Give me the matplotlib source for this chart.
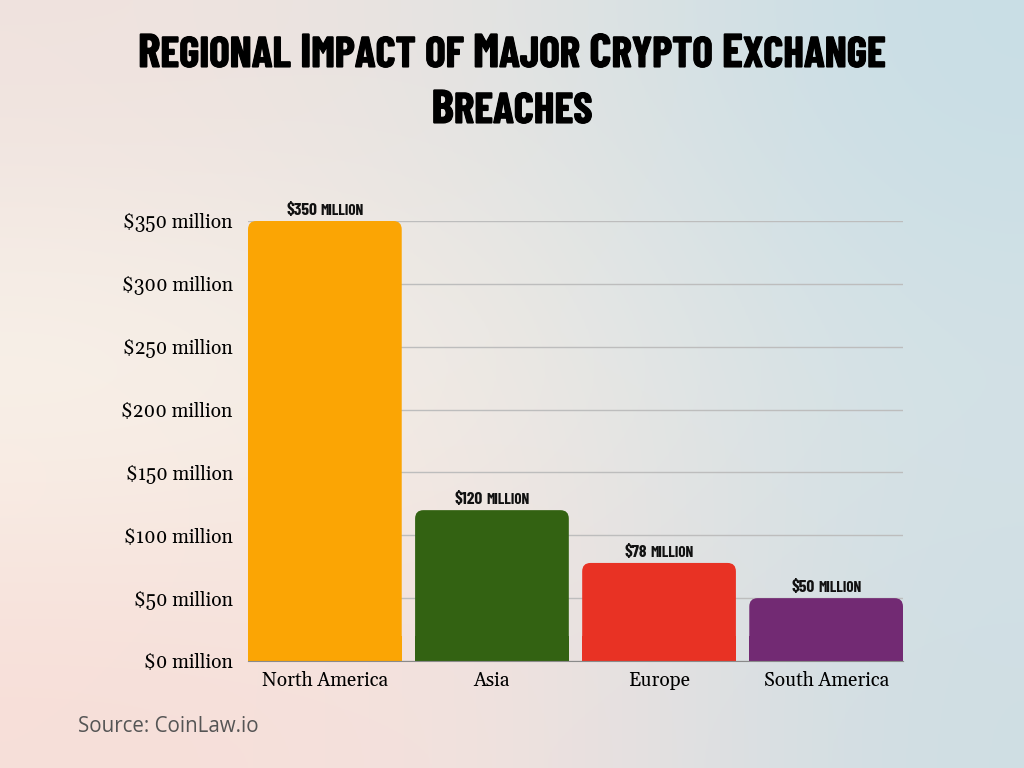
import numpy as np
import matplotlib.pyplot as plt
import matplotlib.patheffects as pe
from matplotlib.patches import FancyBboxPatch, Rectangle

regions = ['North America', 'Asia', 'Europe', 'South America']
losses = [350, 120, 78, 50]  # $ million
bar_labels = ['$350 million', '$120 million', '$78 million', '$50 million']
colors = ['#FBA504', '#336212', '#E83224', '#722A73']
yticks = [0, 50, 100, 150, 200, 250, 300, 350]
title_lines = ['Regional Impact of Major Crypto Exchange', 'Breaches']
source = 'Source: CoinLaw.io'

DISPLAY = ['Barlow Condensed', 'DejaVu Sans']
SERIF = ['Gelasio', 'DejaVu Serif']

fig = plt.figure(figsize=(10.24, 7.68), dpi=100)
renderer = fig.canvas.get_renderer()
W, H = fig.bbox.width, fig.bbox.height


def small_caps(x_px, y_px, s, big, small, color='#111111', effects=None, zorder=5):
    # draw text in small caps, centred on x_px with baseline at y_px (pixels from top)
    pieces = []
    for wi, word in enumerate(s.split(' ')):
        if wi > 0:
            pieces.append((' ', big))
        run, run_low = '', None
        for ch in word:
            low = ch.islower()
            if run and low != run_low:
                pieces.append((run.upper(), small if run_low else big))
                run = ''
            run += ch
            run_low = low
        if run:
            pieces.append((run.upper(), small if run_low else big))
    texts, widths = [], []
    for txt, size in pieces:
        if txt == ' ':
            a = fig.text(0, 0, 'II', fontsize=size, family=DISPLAY, fontweight='bold')
            b = fig.text(0, 0, 'I I', fontsize=size, family=DISPLAY, fontweight='bold')
            widths.append(b.get_window_extent(renderer).width - a.get_window_extent(renderer).width)
            a.remove()
            b.remove()
            texts.append(None)
            continue
        t = fig.text(0, 1 - y_px / H, txt, fontsize=size, family=DISPLAY, color=color,
                     fontweight='bold', va='baseline', ha='left', zorder=zorder)
        if effects:
            t.set_path_effects(effects)
        texts.append(t)
        widths.append(t.get_window_extent(renderer).width)
    cur = x_px - sum(widths) / 2
    for t, w in zip(texts, widths):
        if t is not None:
            t.set_x(cur / W)
        cur += w


# soft background gradient
bg = fig.add_axes([0, 0, 1, 1], zorder=-10)
grid = np.array([
    [[240, 226, 222], [228, 228, 226], [200, 222, 230]],
    [[250, 246, 236], [240, 234, 228], [212, 226, 230]],
    [[247, 222, 216], [244, 226, 222], [206, 222, 228]],
]) / 255.0
bg.imshow(grid, extent=[0, 1, 0, 1], aspect='auto', interpolation='bicubic')
bg.axis('off')

ax = fig.add_axes([248 / W, 1 - 661 / H, 655 / W, 440 / H])
ax.set_facecolor('none')
x = np.arange(len(regions))
w = 0.92
r = 0.05
for i, v in enumerate(losses):
    p = FancyBboxPatch((x[i] - w / 2, 0), w, v,
                       boxstyle='round,pad=0,rounding_size=%f' % r,
                       mutation_aspect=135, fc=colors[i], ec='none', zorder=3)
    ax.add_patch(p)
    ax.add_patch(Rectangle((x[i] - w / 2, 0), w, min(v, 20), fc=colors[i],
                           ec='none', zorder=3))

ax.set_xlim(-0.46, 3.46)
ax.set_ylim(0, 350)
ax.set_yticks(yticks)
ax.set_yticklabels(['$%d million' % t for t in yticks], family=SERIF, fontsize=13.8)
ax.set_xticks(x)
ax.set_xticklabels(regions, family=SERIF, fontsize=13.8)
ax.tick_params(axis='y', length=0, pad=11)
ax.tick_params(axis='x', length=0, pad=7)
ax.grid(axis='y', color='#bdbdbd', lw=1, zorder=0)
for s in ['left', 'right', 'top']:
    ax.spines[s].set_visible(False)
ax.spines['bottom'].set_color('#8a8a8a')
ax.spines['bottom'].set_zorder(5)

# value labels above bars
for i, v in enumerate(losses):
    px, py = ax.transData.transform((x[i], v + 4.8))
    small_caps(px, H - py, bar_labels[i], 12.6, 11)

thick = [pe.withStroke(linewidth=0.8, foreground='black')]
small_caps(W / 2, 67, title_lines[0], 34, 31, color='black', effects=thick)
small_caps(W / 2, 123, title_lines[1], 34, 31, color='black', effects=thick)

fig.text(78 / W, 1 - 732 / H, source, ha='left', va='baseline',
         fontsize=14.8, family=['Open Sans', 'DejaVu Sans'], color='#555555')

fig.savefig('out.png', dpi=100)
